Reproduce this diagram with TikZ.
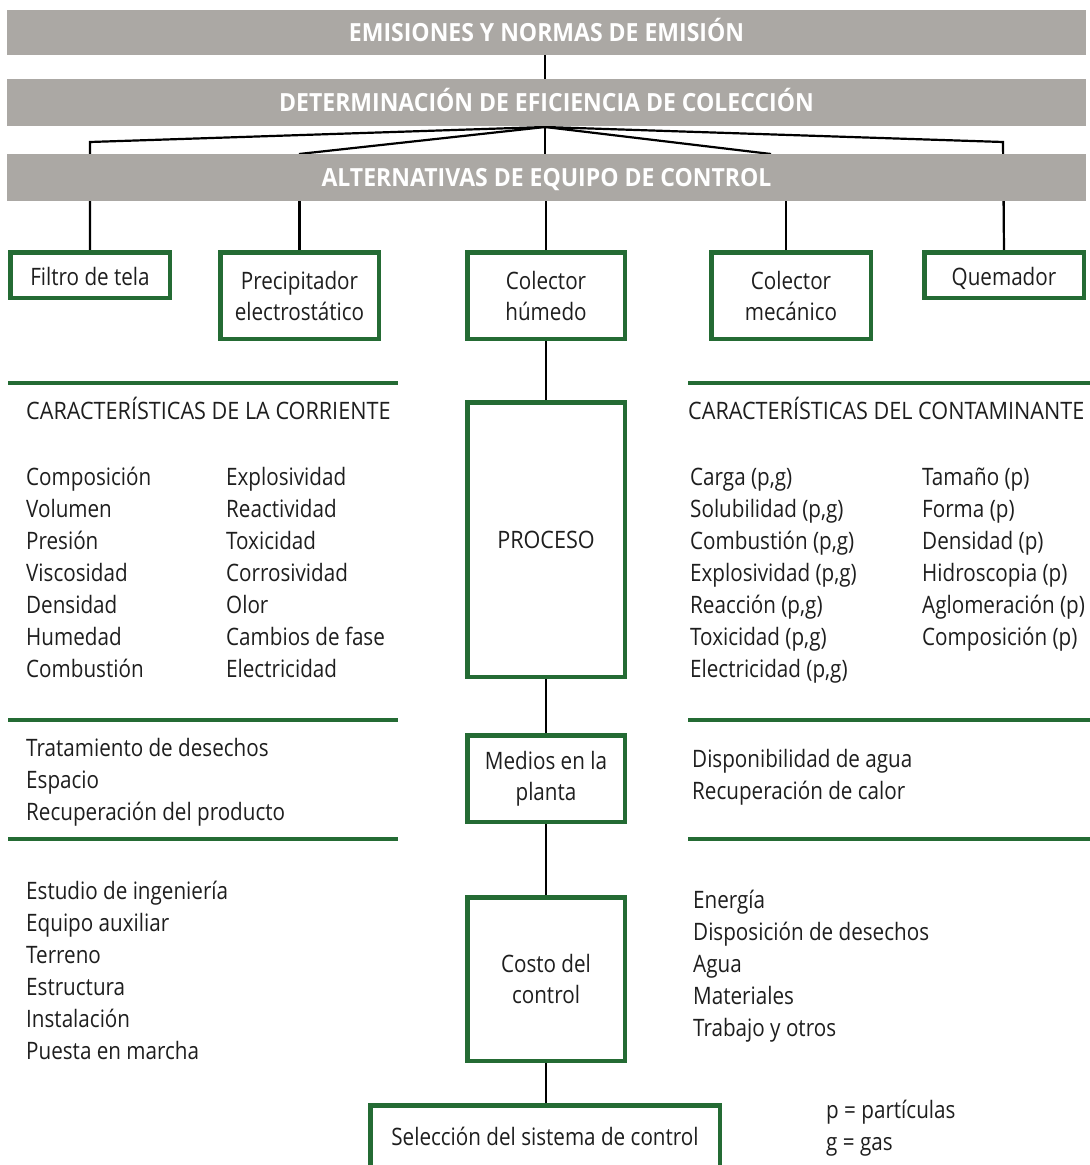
\documentclass[tikz,border=0pt]{standalone}
\usepackage{fontspec}
\setmainfont{Open Sans}[FakeStretch=0.86]
\newfontfamily\capsfont{Open Sans}[FakeStretch=0.90]
\newfontfamily\bannerfont{Open Sans}[FakeStretch=0.92]
\usetikzlibrary{backgrounds}
\definecolor{bannergray}{RGB}{171,168,164}
\definecolor{boxgreen}{RGB}{36,107,52}
\definecolor{inkgray}{RGB}{30,30,30}
\tikzset{
  banner/.style={fill=bannergray, minimum width=1079pt, inner sep=0pt,
    text height=18pt, text depth=0pt,
    text=white, font=\bannerfont\fontsize{25}{28}\selectfont\bfseries},
  greenbox/.style={draw=boxgreen, line width=4.5pt, fill=white, inner sep=0pt,
    align=center, text=inkgray, font=\fontsize{24}{31}\selectfont},
  onebox/.style={greenbox, text height=20pt, text depth=0pt},
  label/.style={anchor=base west, inner sep=0pt, text=inkgray,
    font=\fontsize{24}{32}\selectfont},
  heading/.style={label, font=\capsfont\fontsize{24}{32}\selectfont},
  link/.style={draw=black, line width=2.2pt},
  rule/.style={draw=boxgreen, line width=4.5pt}
}
\begin{document}
\begin{tikzpicture}[x=1pt, y=-1pt]
\useasboundingbox (0,0) rectangle (1090,1165);
\clip (0,0) rectangle (1090,1165);

% gray title bands
\node[banner, minimum height=45pt] (b1) at (546.5,32.5) {EMISIONES Y NORMAS DE EMISIÓN};
\node[banner, minimum height=47pt] (b2) at (546.5,102.5) {DETERMINACIÓN DE EFICIENCIA DE COLECCIÓN};
\node[banner, minimum height=47pt] (b3) at (546.5,177.5) {ALTERNATIVAS DE EQUIPO DE CONTROL};
\coordinate (hub) at (545,127);
\coordinate (top1) at (545,55);

% control equipment alternatives
\node[onebox, minimum width=159.5pt, minimum height=45.5pt] (e1) at (90,275) {Filtro de tela};
\node[greenbox, minimum width=158.5pt, minimum height=86.5pt] (e2) at (299.5,295.5) {Precipitador\\electrostático};
\node[greenbox, minimum width=157.5pt, minimum height=86.5pt] (e3) at (546,295.5) {Colector\\húmedo};
\node[greenbox, minimum width=159.5pt, minimum height=86.5pt] (e4) at (791,295.5) {Colector\\mecánico};
\node[onebox, minimum width=159.5pt, minimum height=45.5pt] (e5) at (1004,275) {Quemador};

% central chain
\node[greenbox, minimum width=157.5pt, minimum height=274.5pt, font=\capsfont\fontsize{24}{31}\selectfont] (proc) at (546,539.5) {PROCESO};
\node[greenbox, minimum width=157.5pt, minimum height=86.5pt] (med) at (546,778.5) {Medios en la\\planta};
\node[greenbox, minimum width=157.5pt, minimum height=163.5pt] (cost) at (546,979) {Costo del\\control};
\node[greenbox, minimum width=349.5pt, minimum height=65.5pt, text depth=0pt] (sel) at (545,1138) {\raisebox{3pt}{Selección del sistema de control}};

\begin{scope}[on background layer]
  \draw[link] (top1) -- (top1 |- b2.north);
  \draw[link] (hub) -- (90,142) -- (e1.north);
  \draw[link] (hub) -- (299,154);
  \draw[link] (hub) -- (hub |- b3.north);
  \draw[link] (hub) -- (771,154);
  \draw[link] (hub) -- (1003,142) -- (e5.north);
  \draw[link] (e1.north |- b3.south) -- (e1.north);
  \draw[link] (e2.north |- b3.south) -- (e2.north);
  \draw[link] (e3.north |- b3.south) -- (e3.north);
  \draw[link] ([xshift=-5pt]e4.north |- b3.south) -- ([xshift=-5pt]e4.north);
  \draw[link] (e5.north |- b3.south) -- (e5.north);
  \draw[link] (e3.south) -- (proc.north);
  \draw[link] (proc.south) -- (med.north);
  \draw[link] (med.south) -- (cost.north);
  \draw[link] (cost.south) -- (sel.north -| cost.south);
\end{scope}

% green separator rules
\foreach \y in {383,720,839} {
  \draw[rule] (8,\y) -- (398,\y);
  \draw[rule] (688,\y) -- (1090,\y);
}

% stream characteristics
\node[heading] (hl) at (26,419) {CARACTERÍSTICAS DE LA CORRIENTE};
\foreach \t [count=\i from 0] in {Composición,Volumen,Presión,Viscosidad,Densidad,Humedad,Combustión}
  \node[label] (sa\i) at (26,485+32*\i) {\t};
\foreach \t [count=\i from 0] in {Explosividad,Reactividad,Toxicidad,Corrosividad,Olor,Cambios de fase,Electricidad}
  \node[label] (sb\i) at (226,485+32*\i) {\t};

% pollutant characteristics
\node[heading] (hr) at (688,419) {CARACTERÍSTICAS DEL CONTAMINANTE};
\foreach \t [count=\i from 0] in {{Carga (p,g)},{Solubilidad (p,g)},{Combustión (p,g)},{Explosividad (p,g)},{Reacción (p,g)},{Toxicidad (p,g)},{Electricidad (p,g)}}
  \node[label] (pa\i) at (690,485+32*\i) {\t};
\foreach \t [count=\i from 0] in {Tamaño (p),Forma (p),Densidad (p),Hidroscopia (p),Aglomeración (p),Composición (p)}
  \node[label] (pb\i) at (922,485+32*\i) {\t};

% plant facilities
\foreach \t [count=\i from 0] in {Tratamiento de desechos,Espacio,Recuperación del producto}
  \node[label] (ml\i) at (26,756+32*\i) {\t};
\foreach \t [count=\i from 0] in {Disponibilidad de agua,Recuperación de calor}
  \node[label] (mr\i) at (692,767+32*\i) {\t};

% control costs
\foreach \t [count=\i from 0] in {Estudio de ingeniería,Equipo auxiliar,Terreno,Estructura,Instalación,Puesta en marcha}
  \node[label] (cl\i) at (26,899+32*\i) {\t};
\foreach \t [count=\i from 0] in {Energía,Disposición de desechos,Agua,Materiales,Trabajo y otros}
  \node[label] (cr\i) at (693,908+32*\i) {\t};

% legend
\node[label] (lp) at (826,1118) {p = partículas};
\node[label] (lg) at (826,1150) {g = gas};
\end{tikzpicture}
\end{document}
